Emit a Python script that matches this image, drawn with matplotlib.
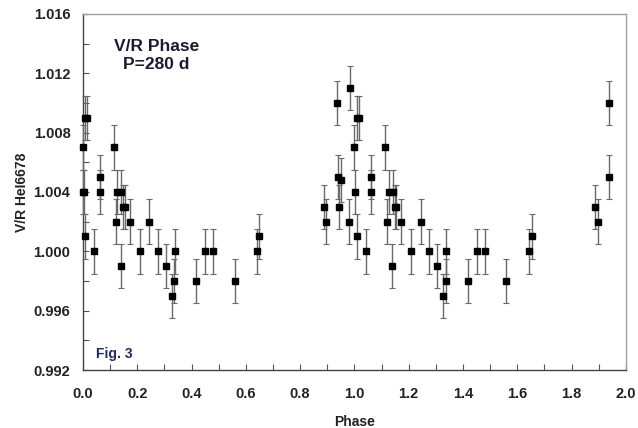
import matplotlib
matplotlib.use('Agg')
import matplotlib.pyplot as plt
from matplotlib.ticker import MultipleLocator, FormatStrFormatter

plt.rcParams['font.family'] = ['Liberation Sans', 'DejaVu Sans']
plt.rcParams['font.weight'] = 'bold'

# V/R HeI 6678 phased on P = 280 d
phase = [0.000, 0.001, 0.004, 0.008, 0.016, 0.008, 0.040, 0.063, 0.063, 0.113,
         0.122, 0.126, 0.139, 0.141, 0.149, 0.156, 0.173, 0.210, 0.244, 0.275,
         0.306, 0.328, 0.335, 0.338, 0.418, 0.450, 0.478, 0.559, 0.642, 0.649,
         0.888, 0.897, 0.937, 0.940, 0.944, 0.951, 0.980, 0.983, 0.998, 1.002,
         1.009, 1.018, 1.009, 1.042, 1.061, 1.061, 1.112, 1.121, 1.126, 1.138,
         1.143, 1.148, 1.155, 1.172, 1.209, 1.245, 1.276, 1.305, 1.327, 1.336,
         1.338, 1.419, 1.450, 1.481, 1.558, 1.644, 1.655, 1.886, 1.897, 1.936,
         1.939]
vr = [1.007, 1.004, 1.004, 1.009, 1.009, 1.001, 1.000, 1.005, 1.004, 1.007,
      1.002, 1.004, 0.999, 1.004, 1.003, 1.003, 1.002, 1.000, 1.002, 1.000,
      0.999, 0.997, 0.998, 1.000, 0.998, 1.000, 1.000, 0.998, 1.000, 1.001,
      1.003, 1.002, 1.010, 1.005, 1.003, 1.0048, 1.002, 1.011, 1.007, 1.004,
      1.009, 1.009, 1.001, 1.000, 1.005, 1.004, 1.007, 1.002, 1.004, 0.999,
      1.004, 1.003, 1.003, 1.002, 1.000, 1.002, 1.000, 0.999, 0.997, 0.998,
      1.000, 0.998, 1.000, 1.000, 0.998, 1.000, 1.001, 1.003, 1.002, 1.010,
      1.005]
err = 0.0015

fig = plt.figure(figsize=(6.38, 4.28), dpi=100)
ax = fig.add_axes([0.130, 0.1355, 0.851, 0.832])

ax.errorbar(phase, vr, yerr=err, fmt='s', ms=5, mfc='black', mec='black',
            ecolor='#6a6a6a', elinewidth=1, capsize=2, capthick=0.8,
            clip_on=False, zorder=3)

ax.set_xlim(0, 2.0)
ax.set_ylim(0.992, 1.016)
ax.xaxis.set_major_locator(MultipleLocator(0.2))
ax.xaxis.set_minor_locator(MultipleLocator(0.1))
ax.yaxis.set_major_locator(MultipleLocator(0.004))
ax.yaxis.set_minor_locator(MultipleLocator(0.002))
ax.xaxis.set_major_formatter(FormatStrFormatter('%.1f'))
ax.yaxis.set_major_formatter(FormatStrFormatter('%.3f'))

ax.tick_params(which='both', direction='in', color='#555555', width=0.8)
ax.tick_params(which='major', length=4)
ax.tick_params(which='minor', length=4)
ax.tick_params(axis='x', which='major', pad=12, labelsize=10.5, labelcolor='#222222')
ax.tick_params(axis='y', which='major', pad=9, labelsize=10.5, labelcolor='#222222')
for lab in ax.get_xticklabels() + ax.get_yticklabels():
    lab.set_fontweight('bold')

for s in ['left', 'bottom']:
    ax.spines[s].set_color('#444444')
    ax.spines[s].set_linewidth(1.0)
for s in ['top', 'right']:
    ax.spines[s].set_color('#a0a0a0')
    ax.spines[s].set_linewidth(1.0)

ax.set_xlabel('Phase', fontsize=10, fontweight='bold', color='#222222', labelpad=10)
ax.set_ylabel('V/R HeI6678', fontsize=10, fontweight='bold', color='#222222', labelpad=3)

ax.text(0.135, 0.883, 'V/R Phase\nP=280 d', transform=ax.transAxes, ha='center',
        va='center', fontsize=12.5, fontweight='bold', color='#1a1a30', linespacing=1.25)
ax.text(0.024, 0.045, 'Fig. 3', transform=ax.transAxes, ha='left', va='center',
        fontsize=10, fontweight='bold', color='#1f2a5a')

fig.savefig('out.png', dpi=100, facecolor='white')
